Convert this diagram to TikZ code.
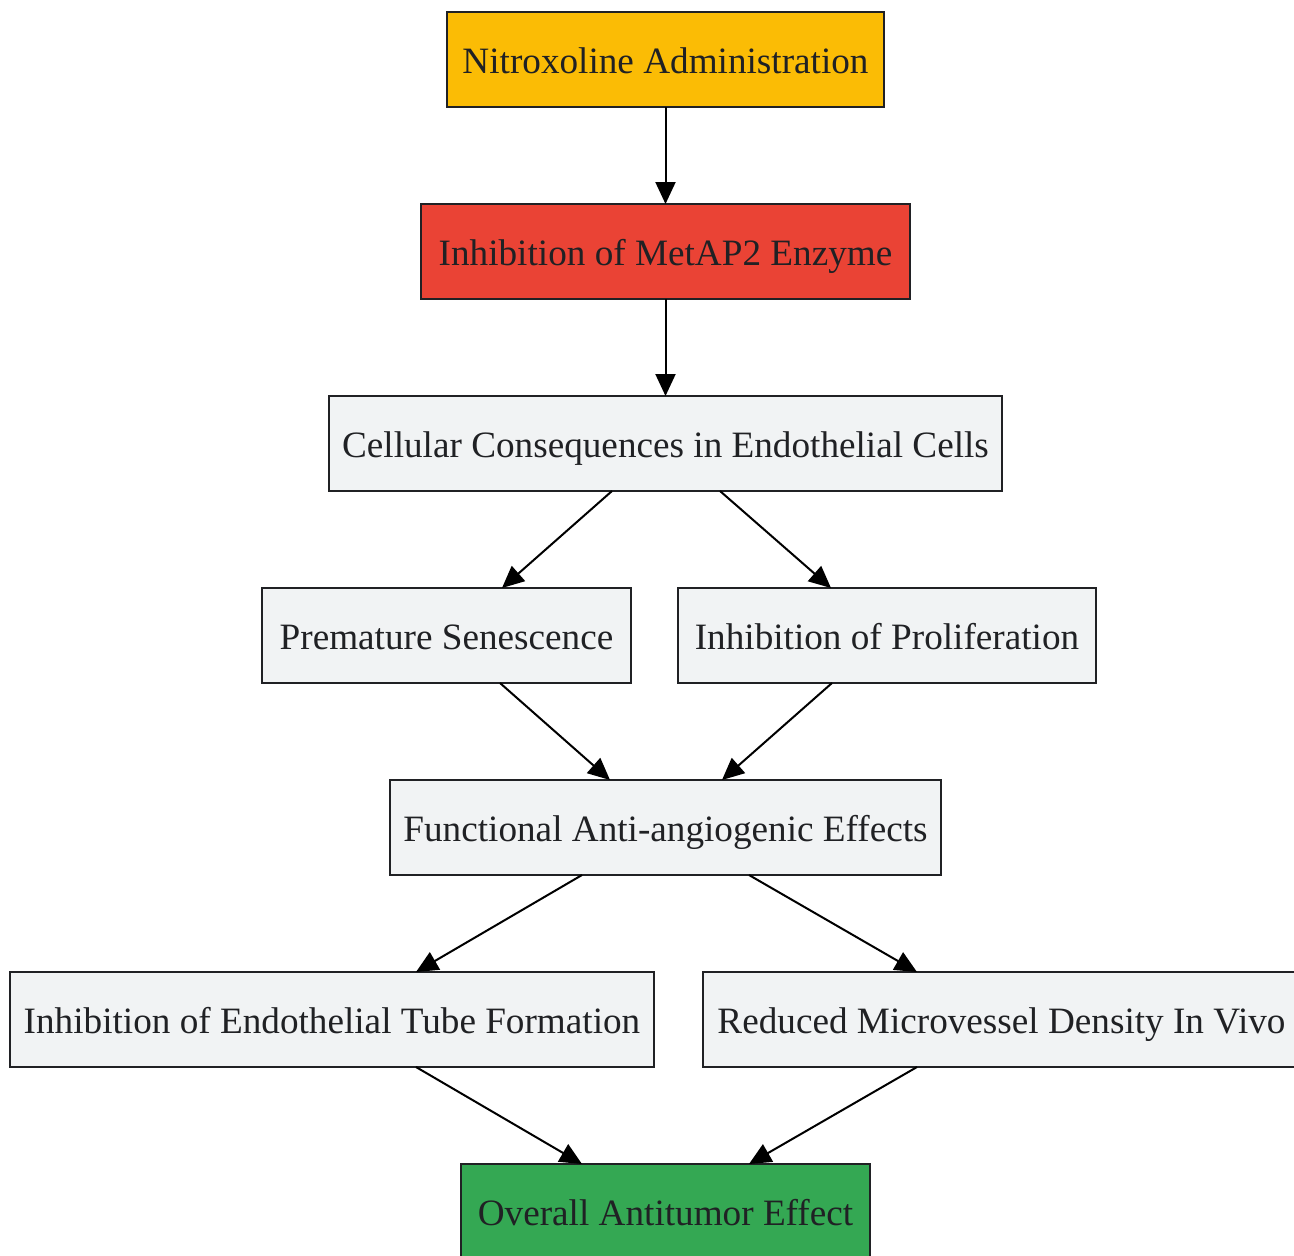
\documentclass[tikz,border=0pt]{standalone}
\usepackage{fontspec}
\setmainfont{Liberation Serif}
\usetikzlibrary{arrows.meta,positioning}

\definecolor{gyellow}{HTML}{FBBC05}
\definecolor{gred}{HTML}{EA4335}
\definecolor{ggreen}{HTML}{34A853}
\definecolor{glight}{HTML}{F1F3F4}
\definecolor{gtext}{HTML}{202124}

\begin{document}
\begin{tikzpicture}[x=1pt, y=1pt, node distance=97pt and 47pt,
        block/.style={rectangle, draw=gtext, line width=2pt, fill=glight, text=gtext, outer sep=0pt,
            minimum height=95pt, inner xsep=8pt, text height=31pt, text depth=3pt,
            font=\fontsize{37.2}{44}\selectfont},
        link/.style={-{Triangle[length=22pt, width=20pt]}, line width=2pt, black}]
        \useasboundingbox (0,0) rectangle (1294,-1256);

        \node[block, fill=gyellow, minimum width=437pt] (nitro) at (665.5,-59.5) {Nitroxoline Administration};
        \node[block, fill=gred, minimum width=489pt, below=of nitro] (metap) {Inhibition of MetAP2 Enzyme};
        \node[block, minimum width=673pt, below=of metap] (cell) {Cellular Consequences in Endothelial Cells};
        \node[block, minimum width=369pt, below=97pt of cell, xshift=-219pt] (senes) {Premature Senescence};
        \node[block, minimum width=418pt, below=97pt of cell, xshift=221.5pt] (prolif) {Inhibition of Proliferation};
        \node[block, minimum width=551pt, below=97pt of senes, xshift=219pt] (func) {Functional Anti-angiogenic Effects};
        \node[block, minimum width=644pt, below=97pt of func, xshift=-333.5pt] (tube) {Inhibition of Endothelial Tube Formation};
        \node[block, minimum width=597pt, below=97pt of func, xshift=336pt] (mvd) {Reduced Microvessel Density In Vivo};
        \node[block, fill=ggreen, minimum width=409pt, below=97pt of tube, xshift=333.5pt] (antitumor) {Overall Antitumor Effect};

        \draw[link] (nitro) -- (metap);
        \draw[link] (metap) -- (cell);
        \draw[link] ([xshift=-53.5pt]cell.south) -- ([xshift=55.5pt]senes.north);
        \draw[link] ([xshift=54.5pt]cell.south) -- ([xshift=-56pt]prolif.north);
        \draw[link] ([xshift=53.5pt]senes.south) -- ([xshift=-55.5pt]func.north);
        \draw[link] ([xshift=-55pt]prolif.south) -- ([xshift=56.5pt]func.north);
        \draw[link] ([xshift=-83.5pt]func.south) -- ([xshift=84pt]tube.north);
        \draw[link] ([xshift=83.5pt]func.south) -- ([xshift=-84.5pt]mvd.north);
        \draw[link] ([xshift=84pt]tube.south) -- ([xshift=-83.5pt]antitumor.north);
        \draw[link] ([xshift=-84.5pt]mvd.south) -- ([xshift=83.5pt]antitumor.north);
    \end{tikzpicture}
\end{document}
